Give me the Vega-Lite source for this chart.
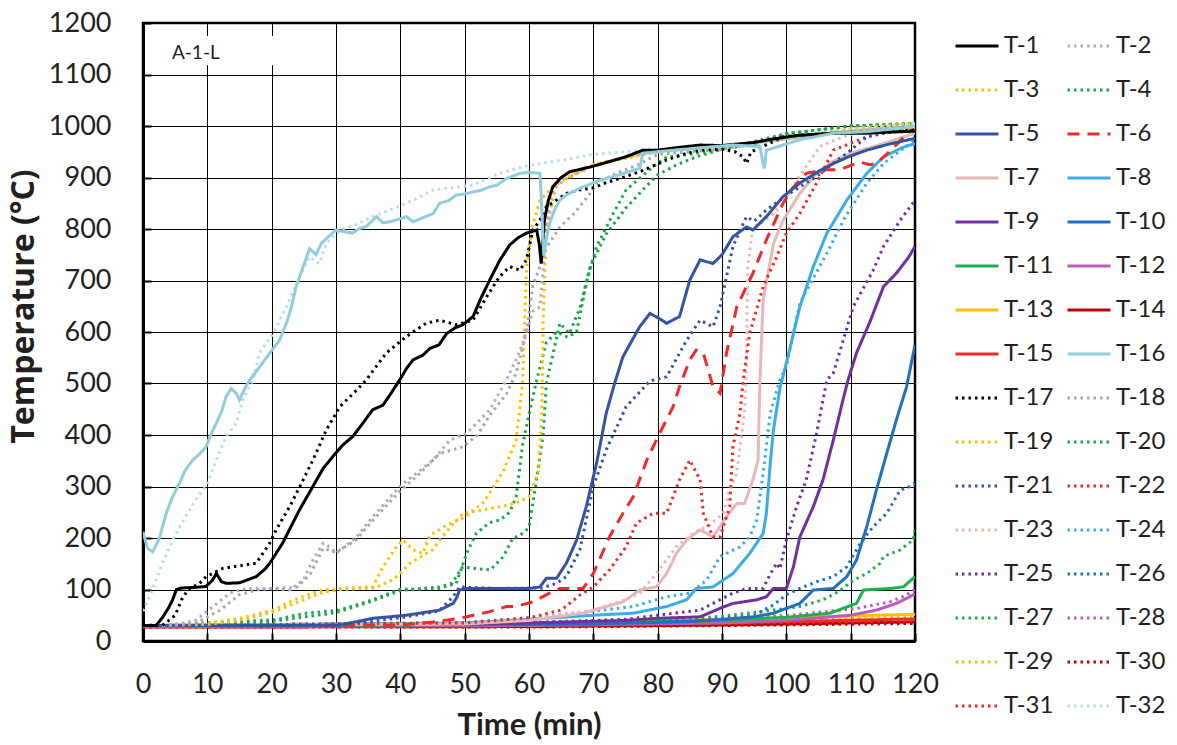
{
  "$schema": "https://vega.github.io/schema/vega-lite/v6.json",
  "width": 772,
  "height": 618,
  "autosize": {"type": "none"},
  "padding": {"left": 143, "top": 23, "right": 262, "bottom": 104},
  "config": {
    "view": {"stroke": "#000", "strokeWidth": 2.5},
    "font": "Lato",
    "axis": {
      "labelFont": "Lato", "labelFontSize": 27, "labelColor": "#231f20",
      "titleFont": "Lato", "titleFontSize": 31, "titleFontWeight": "bold", "titleColor": "#231f20",
      "domainColor": "#000", "domainWidth": 3,
      "tickColor": "#000", "tickWidth": 2, "tickSize": -8,
      "gridColor": "#000", "gridWidth": 1, "gridOpacity": 1,
      "labelOverlap": false, "labelFlush": false
    },
    "legend": {"labelFont": "Lato", "labelFontSize": 24, "labelColor": "#231f20"}
  },
  "layer": [
    {
      "data": {"values": [
{"s":"T-13","t":0,"v":30},{"s":"T-13","t":30,"v":31},{"s":"T-13","t":60,"v":35},{"s":"T-13","t":90,"v":42},{"s":"T-13","t":120,"v":52},
{"s":"T-29","t":0,"v":30},{"s":"T-29","t":30,"v":31},{"s":"T-29","t":60,"v":34},{"s":"T-29","t":90,"v":40},{"s":"T-29","t":120,"v":48},
{"s":"T-14","t":0,"v":27},{"s":"T-14","t":60,"v":28},{"s":"T-14","t":90,"v":31},{"s":"T-14","t":120,"v":37},
{"s":"T-15","t":0,"v":28},{"s":"T-15","t":60,"v":30},{"s":"T-15","t":90,"v":35},{"s":"T-15","t":120,"v":43},
{"s":"T-30","t":0,"v":27},{"s":"T-30","t":60,"v":27},{"s":"T-30","t":90,"v":30},{"s":"T-30","t":120,"v":34},
{"s":"T-31","t":0,"v":28},{"s":"T-31","t":60,"v":30},{"s":"T-31","t":90,"v":34},{"s":"T-31","t":120,"v":40},
{"s":"T-12","t":0,"v":28},{"s":"T-12","t":60,"v":30},{"s":"T-12","t":90,"v":35},{"s":"T-12","t":100,"v":40},{"s":"T-12","t":110,"v":50},{"s":"T-12","t":114,"v":60},{"s":"T-12","t":117.1,"v":73},{"s":"T-12","t":119.2,"v":86},{"s":"T-12","t":120,"v":92},
{"s":"T-28","t":0,"v":29},{"s":"T-28","t":60,"v":32},{"s":"T-28","t":90,"v":42},{"s":"T-28","t":100.5,"v":50},{"s":"T-28","t":110.9,"v":63},{"s":"T-28","t":116.1,"v":76},{"s":"T-28","t":118.5,"v":88},{"s":"T-28","t":120,"v":100},
{"s":"T-11","t":0,"v":29},{"s":"T-11","t":60,"v":33},{"s":"T-11","t":90,"v":40},{"s":"T-11","t":100,"v":46},{"s":"T-11","t":106.8,"v":54},{"s":"T-11","t":110.9,"v":73},{"s":"T-11","t":112,"v":99},{"s":"T-11","t":116.1,"v":102},{"s":"T-11","t":118.2,"v":105},{"s":"T-11","t":120,"v":125},
{"s":"T-27","t":0,"v":29},{"s":"T-27","t":60,"v":33},{"s":"T-27","t":80,"v":40},{"s":"T-27","t":90,"v":48},{"s":"T-27","t":98,"v":60},{"s":"T-27","t":102.1,"v":67},{"s":"T-27","t":105.7,"v":80},{"s":"T-27","t":108,"v":95},{"s":"T-27","t":110.4,"v":118},{"s":"T-27","t":112.5,"v":131},{"s":"T-27","t":114.6,"v":151},{"s":"T-27","t":115.1,"v":164},{"s":"T-27","t":117.7,"v":177},{"s":"T-27","t":119.7,"v":196},{"s":"T-27","t":120,"v":215},
{"s":"T-10","t":0,"v":30},{"s":"T-10","t":70,"v":33},{"s":"T-10","t":85,"v":38},{"s":"T-10","t":90,"v":42},{"s":"T-10","t":95,"v":47},{"s":"T-10","t":98,"v":54},{"s":"T-10","t":102.1,"v":73},{"s":"T-10","t":104.2,"v":99},{"s":"T-10","t":107.3,"v":102},{"s":"T-10","t":109.4,"v":125},{"s":"T-10","t":110.9,"v":157},{"s":"T-10","t":112.5,"v":222},{"s":"T-10","t":114,"v":293},{"s":"T-10","t":115.6,"v":364},{"s":"T-10","t":117.1,"v":429},{"s":"T-10","t":118.7,"v":494},{"s":"T-10","t":120,"v":575},
{"s":"T-26","t":0,"v":30},{"s":"T-26","t":70,"v":33},{"s":"T-26","t":85,"v":38},{"s":"T-26","t":95,"v":50},{"s":"T-26","t":98,"v":70},{"s":"T-26","t":100,"v":90},{"s":"T-26","t":102.1,"v":102},{"s":"T-26","t":104.7,"v":115},{"s":"T-26","t":107.3,"v":125},{"s":"T-26","t":109.4,"v":144},{"s":"T-26","t":111.5,"v":190},{"s":"T-26","t":113.5,"v":222},{"s":"T-26","t":115.6,"v":248},{"s":"T-26","t":117.7,"v":293},{"s":"T-26","t":119.2,"v":300},{"s":"T-26","t":120,"v":306},
{"s":"T-9","t":0,"v":30},{"s":"T-9","t":60,"v":35},{"s":"T-9","t":75,"v":40},{"s":"T-9","t":80,"v":44},{"s":"T-9","t":86.6,"v":47},{"s":"T-9","t":90,"v":65},{"s":"T-9","t":91.7,"v":73},{"s":"T-9","t":95.4,"v":80},{"s":"T-9","t":96.9,"v":86},{"s":"T-9","t":98,"v":102},{"s":"T-9","t":100,"v":102},{"s":"T-9","t":101.1,"v":144},{"s":"T-9","t":102.1,"v":202},{"s":"T-9","t":104.2,"v":261},{"s":"T-9","t":105.7,"v":313},{"s":"T-9","t":107.3,"v":390},{"s":"T-9","t":108.8,"v":468},{"s":"T-9","t":109.6,"v":507},{"s":"T-9","t":110.9,"v":559},{"s":"T-9","t":113,"v":620},{"s":"T-9","t":115.1,"v":688},{"s":"T-9","t":117.1,"v":714},{"s":"T-9","t":119,"v":745},{"s":"T-9","t":120,"v":766},
{"s":"T-25","t":0,"v":30},{"s":"T-25","t":60,"v":36},{"s":"T-25","t":75,"v":42},{"s":"T-25","t":80,"v":50},{"s":"T-25","t":86.6,"v":60},{"s":"T-25","t":91.7,"v":93},{"s":"T-25","t":93.8,"v":102},{"s":"T-25","t":96.4,"v":102},{"s":"T-25","t":97.5,"v":130},{"s":"T-25","t":98.5,"v":151},{"s":"T-25","t":99,"v":140},{"s":"T-25","t":100,"v":196},{"s":"T-25","t":101.6,"v":261},{"s":"T-25","t":103.1,"v":313},{"s":"T-25","t":104.7,"v":403},{"s":"T-25","t":106.3,"v":507},{"s":"T-25","t":107.3,"v":520},{"s":"T-25","t":110.4,"v":649},{"s":"T-25","t":113.5,"v":720},{"s":"T-25","t":115.1,"v":766},{"s":"T-25","t":117.7,"v":817},{"s":"T-25","t":120,"v":856},
{"s":"T-8","t":0,"v":30},{"s":"T-8","t":50,"v":35},{"s":"T-8","t":60,"v":42},{"s":"T-8","t":70,"v":50},{"s":"T-8","t":76.2,"v":54},{"s":"T-8","t":81.4,"v":67},{"s":"T-8","t":84.5,"v":80},{"s":"T-8","t":86,"v":102},{"s":"T-8","t":88.6,"v":105},{"s":"T-8","t":91.7,"v":131},{"s":"T-8","t":94.3,"v":170},{"s":"T-8","t":95.4,"v":190},{"s":"T-8","t":96.4,"v":209},{"s":"T-8","t":96.9,"v":248},{"s":"T-8","t":97.5,"v":345},{"s":"T-8","t":98,"v":410},{"s":"T-8","t":99,"v":490},{"s":"T-8","t":100.5,"v":565},{"s":"T-8","t":102.1,"v":649},{"s":"T-8","t":104.2,"v":727},{"s":"T-8","t":106.3,"v":792},{"s":"T-8","t":109.4,"v":856},{"s":"T-8","t":112.5,"v":908},{"s":"T-8","t":115.1,"v":940},{"s":"T-8","t":118,"v":958},{"s":"T-8","t":120,"v":966},
{"s":"T-24","t":0,"v":30},{"s":"T-24","t":50,"v":36},{"s":"T-24","t":60,"v":45},{"s":"T-24","t":70,"v":58},{"s":"T-24","t":76.2,"v":67},{"s":"T-24","t":81.4,"v":86},{"s":"T-24","t":85,"v":93},{"s":"T-24","t":87.6,"v":118},{"s":"T-24","t":89.7,"v":164},{"s":"T-24","t":90.7,"v":170},{"s":"T-24","t":92.8,"v":183},{"s":"T-24","t":94.3,"v":202},{"s":"T-24","t":95.4,"v":235},{"s":"T-24","t":96.4,"v":326},{"s":"T-24","t":97.5,"v":442},{"s":"T-24","t":99,"v":507},{"s":"T-24","t":100,"v":533},{"s":"T-24","t":102.1,"v":656},{"s":"T-24","t":104,"v":700},{"s":"T-24","t":106.3,"v":753},{"s":"T-24","t":109,"v":820},{"s":"T-24","t":112.5,"v":889},{"s":"T-24","t":115.1,"v":927},{"s":"T-24","t":118,"v":955},{"s":"T-24","t":120,"v":973},
{"s":"T-7","t":0,"v":30},{"s":"T-7","t":50,"v":33},{"s":"T-7","t":60,"v":40},{"s":"T-7","t":68.4,"v":54},{"s":"T-7","t":74.6,"v":76},{"s":"T-7","t":77.2,"v":99},{"s":"T-7","t":79.8,"v":105},{"s":"T-7","t":81.4,"v":131},{"s":"T-7","t":82.9,"v":170},{"s":"T-7","t":84.5,"v":196},{"s":"T-7","t":86.6,"v":216},{"s":"T-7","t":88.6,"v":202},{"s":"T-7","t":90.7,"v":241},{"s":"T-7","t":92.3,"v":267},{"s":"T-7","t":93.5,"v":267},{"s":"T-7","t":94.8,"v":313},{"s":"T-7","t":95.6,"v":351},{"s":"T-7","t":95.9,"v":507},{"s":"T-7","t":96.4,"v":662},{"s":"T-7","t":98,"v":772},{"s":"T-7","t":99.5,"v":817},{"s":"T-7","t":102.1,"v":869},{"s":"T-7","t":104.7,"v":908},{"s":"T-7","t":107,"v":930},{"s":"T-7","t":110,"v":947},{"s":"T-7","t":115.1,"v":966},{"s":"T-7","t":120,"v":986},
{"s":"T-23","t":0,"v":30},{"s":"T-23","t":50,"v":33},{"s":"T-23","t":60,"v":42},{"s":"T-23","t":70,"v":60},{"s":"T-23","t":75,"v":80},{"s":"T-23","t":77.2,"v":93},{"s":"T-23","t":79.8,"v":131},{"s":"T-23","t":82.9,"v":183},{"s":"T-23","t":85.5,"v":209},{"s":"T-23","t":88,"v":225},{"s":"T-23","t":90.2,"v":248},{"s":"T-23","t":91.2,"v":293},{"s":"T-23","t":92.3,"v":326},{"s":"T-23","t":92.8,"v":377},{"s":"T-23","t":93.5,"v":442},{"s":"T-23","t":93.8,"v":533},{"s":"T-23","t":94,"v":727},{"s":"T-23","t":94.8,"v":804},{"s":"T-23","t":96,"v":810},{"s":"T-23","t":98,"v":830},{"s":"T-23","t":99.5,"v":850},{"s":"T-23","t":102,"v":902},{"s":"T-23","t":105.2,"v":960},{"s":"T-23","t":108.8,"v":979},{"s":"T-23","t":112,"v":990},{"s":"T-23","t":116,"v":1000},{"s":"T-23","t":120,"v":1005},
{"s":"T-6","t":0,"v":30},{"s":"T-6","t":40,"v":31},{"s":"T-6","t":45.1,"v":37},{"s":"T-6","t":49.2,"v":44},{"s":"T-6","t":53.9,"v":57},{"s":"T-6","t":56.5,"v":67},{"s":"T-6","t":58,"v":67},{"s":"T-6","t":60.6,"v":76},{"s":"T-6","t":63.2,"v":93},{"s":"T-6","t":64.8,"v":102},{"s":"T-6","t":68.4,"v":102},{"s":"T-6","t":70,"v":131},{"s":"T-6","t":72.5,"v":202},{"s":"T-6","t":74.6,"v":248},{"s":"T-6","t":76.2,"v":280},{"s":"T-6","t":78.3,"v":351},{"s":"T-6","t":80.3,"v":403},{"s":"T-6","t":82.4,"v":455},{"s":"T-6","t":83.4,"v":494},{"s":"T-6","t":85,"v":546},{"s":"T-6","t":86,"v":565},{"s":"T-6","t":87.1,"v":559},{"s":"T-6","t":88.6,"v":494},{"s":"T-6","t":89.7,"v":481},{"s":"T-6","t":90.7,"v":559},{"s":"T-6","t":92.3,"v":649},{"s":"T-6","t":94.8,"v":714},{"s":"T-6","t":96.9,"v":779},{"s":"T-6","t":99.5,"v":850},{"s":"T-6","t":101,"v":880},{"s":"T-6","t":103.1,"v":908},{"s":"T-6","t":106,"v":915},{"s":"T-6","t":108.3,"v":915},{"s":"T-6","t":111.4,"v":930},{"s":"T-6","t":113,"v":925},{"s":"T-6","t":114,"v":927},{"s":"T-6","t":116,"v":950},{"s":"T-6","t":118,"v":975},{"s":"T-6","t":120,"v":999},
{"s":"T-22","t":0,"v":30},{"s":"T-22","t":50,"v":35},{"s":"T-22","t":60,"v":45},{"s":"T-22","t":65,"v":60},{"s":"T-22","t":68,"v":90},{"s":"T-22","t":70,"v":105},{"s":"T-22","t":72.5,"v":138},{"s":"T-22","t":75.1,"v":183},{"s":"T-22","t":76.7,"v":229},{"s":"T-22","t":79.3,"v":248},{"s":"T-22","t":81.4,"v":248},{"s":"T-22","t":83.4,"v":313},{"s":"T-22","t":85,"v":351},{"s":"T-22","t":86.6,"v":313},{"s":"T-22","t":87.1,"v":248},{"s":"T-22","t":88.6,"v":202},{"s":"T-22","t":89.7,"v":202},{"s":"T-22","t":91.2,"v":261},{"s":"T-22","t":91.7,"v":377},{"s":"T-22","t":92.8,"v":442},{"s":"T-22","t":93.3,"v":507},{"s":"T-22","t":94.3,"v":597},{"s":"T-22","t":96.4,"v":688},{"s":"T-22","t":98.5,"v":746},{"s":"T-22","t":100,"v":792},{"s":"T-22","t":102.1,"v":830},{"s":"T-22","t":104.7,"v":889},{"s":"T-22","t":107.3,"v":953},{"s":"T-22","t":112.5,"v":979},{"s":"T-22","t":120,"v":1000},
{"s":"T-5","t":0,"v":30},{"s":"T-5","t":20,"v":30},{"s":"T-5","t":30.6,"v":31},{"s":"T-5","t":35.7,"v":44},{"s":"T-5","t":40.9,"v":50},{"s":"T-5","t":46.1,"v":60},{"s":"T-5","t":48.2,"v":73},{"s":"T-5","t":48.8,"v":85},{"s":"T-5","t":49.2,"v":99},{"s":"T-5","t":50.3,"v":102},{"s":"T-5","t":55,"v":102},{"s":"T-5","t":60,"v":102},{"s":"T-5","t":61.7,"v":105},{"s":"T-5","t":62.7,"v":122},{"s":"T-5","t":64.3,"v":122},{"s":"T-5","t":65.8,"v":151},{"s":"T-5","t":67.4,"v":196},{"s":"T-5","t":68.9,"v":261},{"s":"T-5","t":70.5,"v":345},{"s":"T-5","t":72,"v":442},{"s":"T-5","t":73.3,"v":500},{"s":"T-5","t":74.6,"v":552},{"s":"T-5","t":77.2,"v":610},{"s":"T-5","t":78.8,"v":636},{"s":"T-5","t":80,"v":628},{"s":"T-5","t":81.4,"v":617},{"s":"T-5","t":83.4,"v":630},{"s":"T-5","t":85,"v":701},{"s":"T-5","t":86.6,"v":740},{"s":"T-5","t":88.6,"v":733},{"s":"T-5","t":90,"v":750},{"s":"T-5","t":91.7,"v":785},{"s":"T-5","t":93.8,"v":804},{"s":"T-5","t":94.8,"v":798},{"s":"T-5","t":96.9,"v":824},{"s":"T-5","t":99.5,"v":863},{"s":"T-5","t":102.1,"v":889},{"s":"T-5","t":105,"v":912},{"s":"T-5","t":107.3,"v":927},{"s":"T-5","t":110,"v":942},{"s":"T-5","t":112.5,"v":953},{"s":"T-5","t":116,"v":965},{"s":"T-5","t":120,"v":976},
{"s":"T-21","t":0,"v":30},{"s":"T-21","t":30,"v":31},{"s":"T-21","t":40,"v":45},{"s":"T-21","t":46,"v":58},{"s":"T-21","t":48.2,"v":86},{"s":"T-21","t":49.2,"v":105},{"s":"T-21","t":55,"v":102},{"s":"T-21","t":62,"v":103},{"s":"T-21","t":64.3,"v":112},{"s":"T-21","t":65.8,"v":125},{"s":"T-21","t":67.9,"v":177},{"s":"T-21","t":70,"v":300},{"s":"T-21","t":72,"v":371},{"s":"T-21","t":75.1,"v":455},{"s":"T-21","t":78.8,"v":505},{"s":"T-21","t":81.4,"v":513},{"s":"T-21","t":84.5,"v":584},{"s":"T-21","t":86.6,"v":623},{"s":"T-21","t":88.6,"v":610},{"s":"T-21","t":89.7,"v":649},{"s":"T-21","t":91.7,"v":766},{"s":"T-21","t":93.8,"v":824},{"s":"T-21","t":95,"v":815},{"s":"T-21","t":96.9,"v":837},{"s":"T-21","t":100.5,"v":869},{"s":"T-21","t":104.7,"v":902},{"s":"T-21","t":107,"v":925},{"s":"T-21","t":110,"v":953},{"s":"T-21","t":112.5,"v":979},{"s":"T-21","t":116,"v":988},{"s":"T-21","t":120,"v":995},
{"s":"T-4","t":0,"v":30},{"s":"T-4","t":20.2,"v":41},{"s":"T-4","t":25.4,"v":54},{"s":"T-4","t":30.6,"v":60},{"s":"T-4","t":35.7,"v":80},{"s":"T-4","t":39.9,"v":100},{"s":"T-4","t":46.1,"v":102},{"s":"T-4","t":48.7,"v":112},{"s":"T-4","t":50.3,"v":170},{"s":"T-4","t":51.8,"v":209},{"s":"T-4","t":53.9,"v":230},{"s":"T-4","t":55.5,"v":235},{"s":"T-4","t":57,"v":250},{"s":"T-4","t":58,"v":280},{"s":"T-4","t":59,"v":380},{"s":"T-4","t":60,"v":440},{"s":"T-4","t":61.2,"v":507},{"s":"T-4","t":62.7,"v":580},{"s":"T-4","t":64.3,"v":600},{"s":"T-4","t":66,"v":590},{"s":"T-4","t":67.4,"v":600},{"s":"T-4","t":69,"v":700},{"s":"T-4","t":70.5,"v":766},{"s":"T-4","t":73.1,"v":830},{"s":"T-4","t":75.1,"v":876},{"s":"T-4","t":79.3,"v":921},{"s":"T-4","t":81.4,"v":940},{"s":"T-4","t":85,"v":945},{"s":"T-4","t":90,"v":955},{"s":"T-4","t":95,"v":965},{"s":"T-4","t":100,"v":985},{"s":"T-4","t":110,"v":1000},{"s":"T-4","t":120,"v":1005},
{"s":"T-20","t":0,"v":30},{"s":"T-20","t":20,"v":38},{"s":"T-20","t":30,"v":55},{"s":"T-20","t":35,"v":75},{"s":"T-20","t":40,"v":98},{"s":"T-20","t":46,"v":105},{"s":"T-20","t":48,"v":112},{"s":"T-20","t":49.7,"v":144},{"s":"T-20","t":52.3,"v":140},{"s":"T-20","t":54,"v":138},{"s":"T-20","t":56,"v":164},{"s":"T-20","t":57.5,"v":200},{"s":"T-20","t":58.6,"v":205},{"s":"T-20","t":60,"v":220},{"s":"T-20","t":61,"v":300},{"s":"T-20","t":62.2,"v":400},{"s":"T-20","t":62.7,"v":500},{"s":"T-20","t":64.8,"v":617},{"s":"T-20","t":66.3,"v":597},{"s":"T-20","t":68,"v":650},{"s":"T-20","t":69.5,"v":727},{"s":"T-20","t":72,"v":790},{"s":"T-20","t":75,"v":840},{"s":"T-20","t":78,"v":880},{"s":"T-20","t":80,"v":905},{"s":"T-20","t":83,"v":925},{"s":"T-20","t":86,"v":940},{"s":"T-20","t":90,"v":955},{"s":"T-20","t":100,"v":985},{"s":"T-20","t":110,"v":1000},{"s":"T-20","t":120,"v":1005},
{"s":"T-3","t":0,"v":30},{"s":"T-3","t":9.8,"v":34},{"s":"T-3","t":15,"v":44},{"s":"T-3","t":20.2,"v":60},{"s":"T-3","t":22.8,"v":76},{"s":"T-3","t":25.4,"v":89},{"s":"T-3","t":28,"v":99},{"s":"T-3","t":30.6,"v":102},{"s":"T-3","t":35.7,"v":105},{"s":"T-3","t":37.3,"v":144},{"s":"T-3","t":39.4,"v":183},{"s":"T-3","t":40.4,"v":196},{"s":"T-3","t":42,"v":177},{"s":"T-3","t":43.5,"v":170},{"s":"T-3","t":44.6,"v":205},{"s":"T-3","t":47.2,"v":225},{"s":"T-3","t":50,"v":240},{"s":"T-3","t":53,"v":270},{"s":"T-3","t":56,"v":330},{"s":"T-3","t":58,"v":390},{"s":"T-3","t":59,"v":500},{"s":"T-3","t":59.6,"v":720},{"s":"T-3","t":60.4,"v":800},{"s":"T-3","t":61.7,"v":856},{"s":"T-3","t":63.7,"v":882},{"s":"T-3","t":66,"v":900},{"s":"T-3","t":70,"v":925},{"s":"T-3","t":80,"v":950},{"s":"T-3","t":90,"v":960},{"s":"T-3","t":100,"v":975},{"s":"T-3","t":110,"v":990},{"s":"T-3","t":120,"v":995},
{"s":"T-19","t":0,"v":30},{"s":"T-19","t":10,"v":32},{"s":"T-19","t":15,"v":40},{"s":"T-19","t":20,"v":55},{"s":"T-19","t":25,"v":80},{"s":"T-19","t":28,"v":95},{"s":"T-19","t":31,"v":100},{"s":"T-19","t":36,"v":103},{"s":"T-19","t":39,"v":120},{"s":"T-19","t":41.5,"v":151},{"s":"T-19","t":45,"v":177},{"s":"T-19","t":47,"v":210},{"s":"T-19","t":49.7,"v":248},{"s":"T-19","t":53,"v":255},{"s":"T-19","t":56,"v":262},{"s":"T-19","t":58,"v":268},{"s":"T-19","t":60,"v":280},{"s":"T-19","t":61.5,"v":330},{"s":"T-19","t":62,"v":450},{"s":"T-19","t":62.2,"v":620},{"s":"T-19","t":62.7,"v":800},{"s":"T-19","t":64.3,"v":889},{"s":"T-19","t":67,"v":905},{"s":"T-19","t":70,"v":925},{"s":"T-19","t":80,"v":950},{"s":"T-19","t":90,"v":962},{"s":"T-19","t":100,"v":975},{"s":"T-19","t":110,"v":995},{"s":"T-19","t":120,"v":1005},
{"s":"T-18","t":0,"v":30},{"s":"T-18","t":8,"v":33},{"s":"T-18","t":12,"v":60},{"s":"T-18","t":15,"v":90},{"s":"T-18","t":18,"v":100},{"s":"T-18","t":24,"v":105},{"s":"T-18","t":26,"v":130},{"s":"T-18","t":28,"v":180},{"s":"T-18","t":30,"v":172},{"s":"T-18","t":33,"v":195},{"s":"T-18","t":36,"v":238},{"s":"T-18","t":40,"v":292},{"s":"T-18","t":43,"v":325},{"s":"T-18","t":46.1,"v":364},{"s":"T-18","t":49.7,"v":377},{"s":"T-18","t":52,"v":400},{"s":"T-18","t":54,"v":440},{"s":"T-18","t":56.5,"v":480},{"s":"T-18","t":58,"v":520},{"s":"T-18","t":59.6,"v":600},{"s":"T-18","t":60.6,"v":690},{"s":"T-18","t":61.5,"v":720},{"s":"T-18","t":62.5,"v":760},{"s":"T-18","t":64.8,"v":804},{"s":"T-18","t":67,"v":830},{"s":"T-18","t":69.5,"v":869},{"s":"T-18","t":70.5,"v":889},{"s":"T-18","t":73,"v":905},{"s":"T-18","t":77,"v":925},{"s":"T-18","t":80,"v":945},{"s":"T-18","t":85,"v":950},{"s":"T-18","t":90,"v":955},{"s":"T-18","t":100,"v":975},{"s":"T-18","t":110,"v":990},{"s":"T-18","t":120,"v":1000},
{"s":"T-2","t":0,"v":30},{"s":"T-2","t":5,"v":31},{"s":"T-2","t":8.3,"v":41},{"s":"T-2","t":10.9,"v":67},{"s":"T-2","t":13.5,"v":93},{"s":"T-2","t":16,"v":102},{"s":"T-2","t":20,"v":102},{"s":"T-2","t":22.8,"v":99},{"s":"T-2","t":24.9,"v":118},{"s":"T-2","t":26.4,"v":157},{"s":"T-2","t":28,"v":190},{"s":"T-2","t":29,"v":183},{"s":"T-2","t":30,"v":170},{"s":"T-2","t":33.2,"v":202},{"s":"T-2","t":35.7,"v":241},{"s":"T-2","t":39.9,"v":300},{"s":"T-2","t":45.1,"v":351},{"s":"T-2","t":47.7,"v":390},{"s":"T-2","t":50.3,"v":403},{"s":"T-2","t":53.9,"v":449},{"s":"T-2","t":56.5,"v":507},{"s":"T-2","t":58.5,"v":560},{"s":"T-2","t":59.6,"v":600},{"s":"T-2","t":60.6,"v":640},{"s":"T-2","t":61.7,"v":649},{"s":"T-2","t":62.2,"v":720},{"s":"T-2","t":62.7,"v":800},{"s":"T-2","t":63.4,"v":860},{"s":"T-2","t":64,"v":880},{"s":"T-2","t":66,"v":900},{"s":"T-2","t":70,"v":922},{"s":"T-2","t":75,"v":940},{"s":"T-2","t":80,"v":952},{"s":"T-2","t":90,"v":960},{"s":"T-2","t":100,"v":975},{"s":"T-2","t":110,"v":990},{"s":"T-2","t":120,"v":1000},
{"s":"T-32","t":0,"v":58},{"s":"T-32","t":1,"v":85},{"s":"T-32","t":2,"v":118},{"s":"T-32","t":3,"v":150},{"s":"T-32","t":4.6,"v":196},{"s":"T-32","t":6,"v":228},{"s":"T-32","t":7.2,"v":254},{"s":"T-32","t":8.5,"v":280},{"s":"T-32","t":9.8,"v":300},{"s":"T-32","t":11.4,"v":351},{"s":"T-32","t":12.9,"v":397},{"s":"T-32","t":14.5,"v":423},{"s":"T-32","t":15.5,"v":468},{"s":"T-32","t":17.1,"v":507},{"s":"T-32","t":18.1,"v":559},{"s":"T-32","t":20.2,"v":597},{"s":"T-32","t":22.3,"v":649},{"s":"T-32","t":24.3,"v":707},{"s":"T-32","t":25.9,"v":746},{"s":"T-32","t":27.4,"v":733},{"s":"T-32","t":28.5,"v":772},{"s":"T-32","t":30.6,"v":798},{"s":"T-32","t":33,"v":808},{"s":"T-32","t":35.7,"v":824},{"s":"T-32","t":38,"v":835},{"s":"T-32","t":40.9,"v":850},{"s":"T-32","t":43,"v":862},{"s":"T-32","t":45.1,"v":876},{"s":"T-32","t":48,"v":880},{"s":"T-32","t":51.3,"v":885},{"s":"T-32","t":53,"v":895},{"s":"T-32","t":55.4,"v":908},{"s":"T-32","t":59.1,"v":921},{"s":"T-32","t":62,"v":928},{"s":"T-32","t":65.3,"v":934},{"s":"T-32","t":70,"v":945},{"s":"T-32","t":75,"v":950},{"s":"T-32","t":80,"v":955},{"s":"T-32","t":85,"v":958},{"s":"T-32","t":90,"v":962},{"s":"T-32","t":95,"v":965},{"s":"T-32","t":100,"v":975},{"s":"T-32","t":105,"v":985},{"s":"T-32","t":110,"v":995},{"s":"T-32","t":115,"v":1000},{"s":"T-32","t":120,"v":1005},
{"s":"T-17","t":0,"v":30},{"s":"T-17","t":3,"v":30},{"s":"T-17","t":5,"v":50},{"s":"T-17","t":6,"v":80},{"s":"T-17","t":7,"v":100},{"s":"T-17","t":8.8,"v":112},{"s":"T-17","t":9.8,"v":125},{"s":"T-17","t":12.4,"v":141},{"s":"T-17","t":14,"v":144},{"s":"T-17","t":17.6,"v":151},{"s":"T-17","t":19.7,"v":190},{"s":"T-17","t":20.7,"v":216},{"s":"T-17","t":22.8,"v":261},{"s":"T-17","t":24.9,"v":313},{"s":"T-17","t":26.4,"v":351},{"s":"T-17","t":28.5,"v":410},{"s":"T-17","t":30.6,"v":455},{"s":"T-17","t":33.2,"v":487},{"s":"T-17","t":34.7,"v":507},{"s":"T-17","t":37.8,"v":559},{"s":"T-17","t":40.9,"v":591},{"s":"T-17","t":44,"v":617},{"s":"T-17","t":46.1,"v":623},{"s":"T-17","t":48.7,"v":614},{"s":"T-17","t":51.3,"v":623},{"s":"T-17","t":53.4,"v":668},{"s":"T-17","t":55.4,"v":707},{"s":"T-17","t":57,"v":727},{"s":"T-17","t":58.6,"v":720},{"s":"T-17","t":59.6,"v":740},{"s":"T-17","t":60.6,"v":798},{"s":"T-17","t":61.7,"v":817},{"s":"T-17","t":62.7,"v":843},{"s":"T-17","t":65.8,"v":869},{"s":"T-17","t":67.9,"v":876},{"s":"T-17","t":70,"v":880},{"s":"T-17","t":72,"v":890},{"s":"T-17","t":75.1,"v":902},{"s":"T-17","t":78,"v":915},{"s":"T-17","t":81.4,"v":934},{"s":"T-17","t":84,"v":945},{"s":"T-17","t":86.6,"v":953},{"s":"T-17","t":90,"v":955},{"s":"T-17","t":92,"v":950},{"s":"T-17","t":93.3,"v":940},{"s":"T-17","t":93.8,"v":927},{"s":"T-17","t":94.5,"v":950},{"s":"T-17","t":96,"v":958},{"s":"T-17","t":99.5,"v":979},{"s":"T-17","t":103,"v":983},{"s":"T-17","t":107.3,"v":986},{"s":"T-17","t":112,"v":988},{"s":"T-17","t":120,"v":992},
{"s":"T-1","t":0,"v":30},{"s":"T-1","t":2,"v":30},{"s":"T-1","t":3,"v":45},{"s":"T-1","t":4,"v":65},{"s":"T-1","t":4.6,"v":80},{"s":"T-1","t":5.2,"v":100},{"s":"T-1","t":6,"v":103},{"s":"T-1","t":8,"v":104},{"s":"T-1","t":9.8,"v":106},{"s":"T-1","t":10.8,"v":118},{"s":"T-1","t":11.4,"v":131},{"s":"T-1","t":12.2,"v":115},{"s":"T-1","t":13,"v":112},{"s":"T-1","t":15,"v":113},{"s":"T-1","t":17.6,"v":125},{"s":"T-1","t":19,"v":140},{"s":"T-1","t":19.7,"v":151},{"s":"T-1","t":21.7,"v":190},{"s":"T-1","t":24.3,"v":254},{"s":"T-1","t":26.4,"v":300},{"s":"T-1","t":28,"v":335},{"s":"T-1","t":29.5,"v":358},{"s":"T-1","t":31,"v":380},{"s":"T-1","t":32.6,"v":397},{"s":"T-1","t":34,"v":420},{"s":"T-1","t":35.7,"v":449},{"s":"T-1","t":37.3,"v":458},{"s":"T-1","t":38.5,"v":480},{"s":"T-1","t":39.9,"v":507},{"s":"T-1","t":41,"v":530},{"s":"T-1","t":42,"v":546},{"s":"T-1","t":43.5,"v":555},{"s":"T-1","t":44.6,"v":568},{"s":"T-1","t":46,"v":575},{"s":"T-1","t":47.2,"v":597},{"s":"T-1","t":48.5,"v":608},{"s":"T-1","t":49.7,"v":614},{"s":"T-1","t":51.3,"v":630},{"s":"T-1","t":52.5,"v":665},{"s":"T-1","t":53.9,"v":701},{"s":"T-1","t":55.5,"v":740},{"s":"T-1","t":57,"v":769},{"s":"T-1","t":58.3,"v":783},{"s":"T-1","t":59.6,"v":792},{"s":"T-1","t":61.2,"v":798},{"s":"T-1","t":61.6,"v":770},{"s":"T-1","t":61.9,"v":733},{"s":"T-1","t":62.4,"v":817},{"s":"T-1","t":63,"v":855},{"s":"T-1","t":63.7,"v":882},{"s":"T-1","t":65,"v":900},{"s":"T-1","t":66.3,"v":911},{"s":"T-1","t":70,"v":922},{"s":"T-1","t":75,"v":940},{"s":"T-1","t":77.7,"v":953},{"s":"T-1","t":80,"v":953},{"s":"T-1","t":83,"v":958},{"s":"T-1","t":86.6,"v":963},{"s":"T-1","t":90,"v":962},{"s":"T-1","t":95,"v":968},{"s":"T-1","t":98,"v":975},{"s":"T-1","t":102,"v":982},{"s":"T-1","t":107.3,"v":986},{"s":"T-1","t":112.5,"v":986},{"s":"T-1","t":116,"v":988},{"s":"T-1","t":120,"v":990},
{"s":"T-16","t":0,"v":212},{"s":"T-16","t":0.7,"v":180},{"s":"T-16","t":1.5,"v":173},{"s":"T-16","t":2,"v":185},{"s":"T-16","t":2.6,"v":202},{"s":"T-16","t":3.6,"v":248},{"s":"T-16","t":4.6,"v":280},{"s":"T-16","t":5.7,"v":307},{"s":"T-16","t":6.5,"v":330},{"s":"T-16","t":7.7,"v":351},{"s":"T-16","t":8.7,"v":362},{"s":"T-16","t":9.8,"v":377},{"s":"T-16","t":10.5,"v":400},{"s":"T-16","t":11.4,"v":423},{"s":"T-16","t":12.2,"v":445},{"s":"T-16","t":12.9,"v":474},{"s":"T-16","t":13.7,"v":490},{"s":"T-16","t":14.5,"v":481},{"s":"T-16","t":15,"v":468},{"s":"T-16","t":15.8,"v":490},{"s":"T-16","t":16.6,"v":507},{"s":"T-16","t":18,"v":530},{"s":"T-16","t":19.7,"v":559},{"s":"T-16","t":21.2,"v":584},{"s":"T-16","t":22.3,"v":617},{"s":"T-16","t":23.1,"v":650},{"s":"T-16","t":23.8,"v":688},{"s":"T-16","t":24.9,"v":727},{"s":"T-16","t":25.9,"v":762},{"s":"T-16","t":26.9,"v":750},{"s":"T-16","t":27.7,"v":772},{"s":"T-16","t":28.8,"v":785},{"s":"T-16","t":30,"v":798},{"s":"T-16","t":31.2,"v":795},{"s":"T-16","t":32.6,"v":792},{"s":"T-16","t":33.5,"v":800},{"s":"T-16","t":34.7,"v":805},{"s":"T-16","t":36.3,"v":824},{"s":"T-16","t":37.3,"v":812},{"s":"T-16","t":38.3,"v":814},{"s":"T-16","t":39.5,"v":818},{"s":"T-16","t":40.9,"v":824},{"s":"T-16","t":42,"v":814},{"s":"T-16","t":43.5,"v":822},{"s":"T-16","t":45.1,"v":830},{"s":"T-16","t":46.1,"v":850},{"s":"T-16","t":47.5,"v":855},{"s":"T-16","t":48.7,"v":866},{"s":"T-16","t":50,"v":868},{"s":"T-16","t":51.3,"v":872},{"s":"T-16","t":52.5,"v":875},{"s":"T-16","t":53.9,"v":882},{"s":"T-16","t":55,"v":885},{"s":"T-16","t":56.5,"v":898},{"s":"T-16","t":58.6,"v":908},{"s":"T-16","t":60,"v":910},{"s":"T-16","t":61.7,"v":908},{"s":"T-16","t":61.9,"v":863},{"s":"T-16","t":62.3,"v":748},{"s":"T-16","t":62.7,"v":780},{"s":"T-16","t":63.2,"v":811},{"s":"T-16","t":64,"v":838},{"s":"T-16","t":64.8,"v":856},{"s":"T-16","t":65.8,"v":866},{"s":"T-16","t":67.9,"v":879},{"s":"T-16","t":71,"v":895},{"s":"T-16","t":74,"v":905},{"s":"T-16","t":77.2,"v":918},{"s":"T-16","t":77.7,"v":947},{"s":"T-16","t":80,"v":950},{"s":"T-16","t":82.4,"v":953},{"s":"T-16","t":87,"v":958},{"s":"T-16","t":91.7,"v":963},{"s":"T-16","t":95.9,"v":960},{"s":"T-16","t":96.4,"v":925},{"s":"T-16","t":96.6,"v":918},{"s":"T-16","t":96.9,"v":953},{"s":"T-16","t":100,"v":965},{"s":"T-16","t":102,"v":973},{"s":"T-16","t":107.3,"v":986},{"s":"T-16","t":112.5,"v":989},{"s":"T-16","t":120,"v":999}
      ]},
      "mark": {"type": "line", "strokeWidth": 3, "clip": true},
      "encoding": {
        "x": {
          "field": "t", "type": "quantitative",
          "scale": {"domain": [0, 120], "nice": false, "zero": false},
          "axis": {
            "title": "Time (min)",
            "values": [0,5,10,15,20,25,30,35,40,45,50,55,60,65,70,75,80,85,90,95,100,105,110,115,120],
            "labelExpr": "datum.value % 10 === 0 ? datum.label : ''",
            "labelPadding": 38,
            "titlePadding": 13,
            "grid": true,
            "gridDash": {"condition": {"test": "datum.value % 10 !== 0", "value": [6, 4]}, "value": []},
            "gridColor": {"condition": {"test": "datum.value === 85", "value": "#9a9a9a"}, "value": "#000"}
          }
        },
        "y": {
          "field": "v", "type": "quantitative",
          "scale": {"domain": [0, 1200], "nice": false},
          "axis": {
            "title": "Temperature (°C)",
            "format": "d",
            "values": [0,50,100,150,200,250,300,350,400,450,500,550,600,650,700,750,800,850,900,950,1000,1050,1100,1150,1200],
            "labelExpr": "datum.value % 100 === 0 ? datum.label : ''",
            "labelPadding": 40,
            "titleFont": "Open Sans",
            "titleFontSize": 32,
            "titleX": -110,
            "titleY": 283,
            "titleAlign": "center",
            "titleBaseline": "alphabetic",
            "grid": true,
            "gridDash": {"condition": {"test": "datum.value % 100 !== 0", "value": [6, 4]}, "value": []}
          }
        },
        "color": {
          "field": "s", "type": "nominal",
          "scale": {
            "domain": ["T-1","T-2","T-3","T-4","T-5","T-6","T-7","T-8","T-9","T-10","T-11","T-12","T-13","T-14","T-15","T-16","T-17","T-18","T-19","T-20","T-21","T-22","T-23","T-24","T-25","T-26","T-27","T-28","T-29","T-30","T-31","T-32"],
            "range": ["#000000","#b3a6d4","#ffc000","#1aa64a","#3553a3","#ee2a2a","#e6b9b8","#3aade6","#7030a0","#1f70bd","#1db04e","#bb5cb8","#ffc000","#c00000","#ee2a2a","#92cddc","#000000","#a6a6a6","#ffc000","#1aa64a","#3553a3","#ee2a2a","#e6b9b8","#3aade6","#7030a0","#1f70bd","#1db04e","#bb5cb8","#ffc000","#c00000","#ee2a2a","#b7dde8"]
          },
          "legend": {
            "title": null,
            "orient": "none",
            "direction": "horizontal",
            "legendX": 811,
            "legendY": 0,
            "columns": 2,
            "columnPadding": 7,
            "rowPadding": 9,
            "symbolLimit": 0,
            "symbolType": "stroke",
            "symbolSize": 1849,
            "symbolStrokeWidth": 3,
            "labelOffset": 4,
            "labelFontSize": 24
          }
        },
        "strokeDash": {
          "field": "s", "type": "nominal",
          "scale": {
            "domain": ["T-1","T-2","T-3","T-4","T-5","T-6","T-7","T-8","T-9","T-10","T-11","T-12","T-13","T-14","T-15","T-16","T-17","T-18","T-19","T-20","T-21","T-22","T-23","T-24","T-25","T-26","T-27","T-28","T-29","T-30","T-31","T-32"],
            "range": [[1,0],[2.5,4],[2.5,4],[2.5,4],[1,0],[12,8],[1,0],[1,0],[1,0],[1,0],[1,0],[1,0],[1,0],[1,0],[1,0],[1,0],[2.5,4],[2.5,4],[2.5,4],[2.5,4],[2.5,4],[2.5,4],[2.5,4],[2.5,4],[2.5,4],[2.5,4],[2.5,4],[2.5,4],[2.5,4],[2.5,4],[2.5,4],[2.5,4]]
          },
          "legend": {
            "title": null,
            "orient": "none",
            "direction": "horizontal",
            "legendX": 811,
            "legendY": 0,
            "columns": 2,
            "columnPadding": 7,
            "rowPadding": 9,
            "symbolLimit": 0,
            "symbolType": "stroke",
            "symbolSize": 1849,
            "symbolStrokeWidth": 3,
            "labelOffset": 4,
            "labelFontSize": 24
          }
        }
      }
    },
    {
      "data": {"values": [{"x1": 2.8, "x2": 26.6, "y1": 1118, "y2": 1175}]},
      "mark": {"type": "rect", "fill": "#ffffff"},
      "encoding": {
        "x": {"field": "x1", "type": "quantitative"},
        "x2": {"field": "x2"},
        "y": {"field": "y1", "type": "quantitative"},
        "y2": {"field": "y2"}
      }
    },
    {
      "data": {"values": [{"x": 4.5, "y": 1142, "label": "A-1-L"}]},
      "mark": {"type": "text", "font": "Lato", "fontSize": 19, "align": "left", "baseline": "middle", "color": "#231f20"},
      "encoding": {
        "x": {"field": "x", "type": "quantitative"},
        "y": {"field": "y", "type": "quantitative"},
        "text": {"field": "label"}
      }
    }
  ]
}
